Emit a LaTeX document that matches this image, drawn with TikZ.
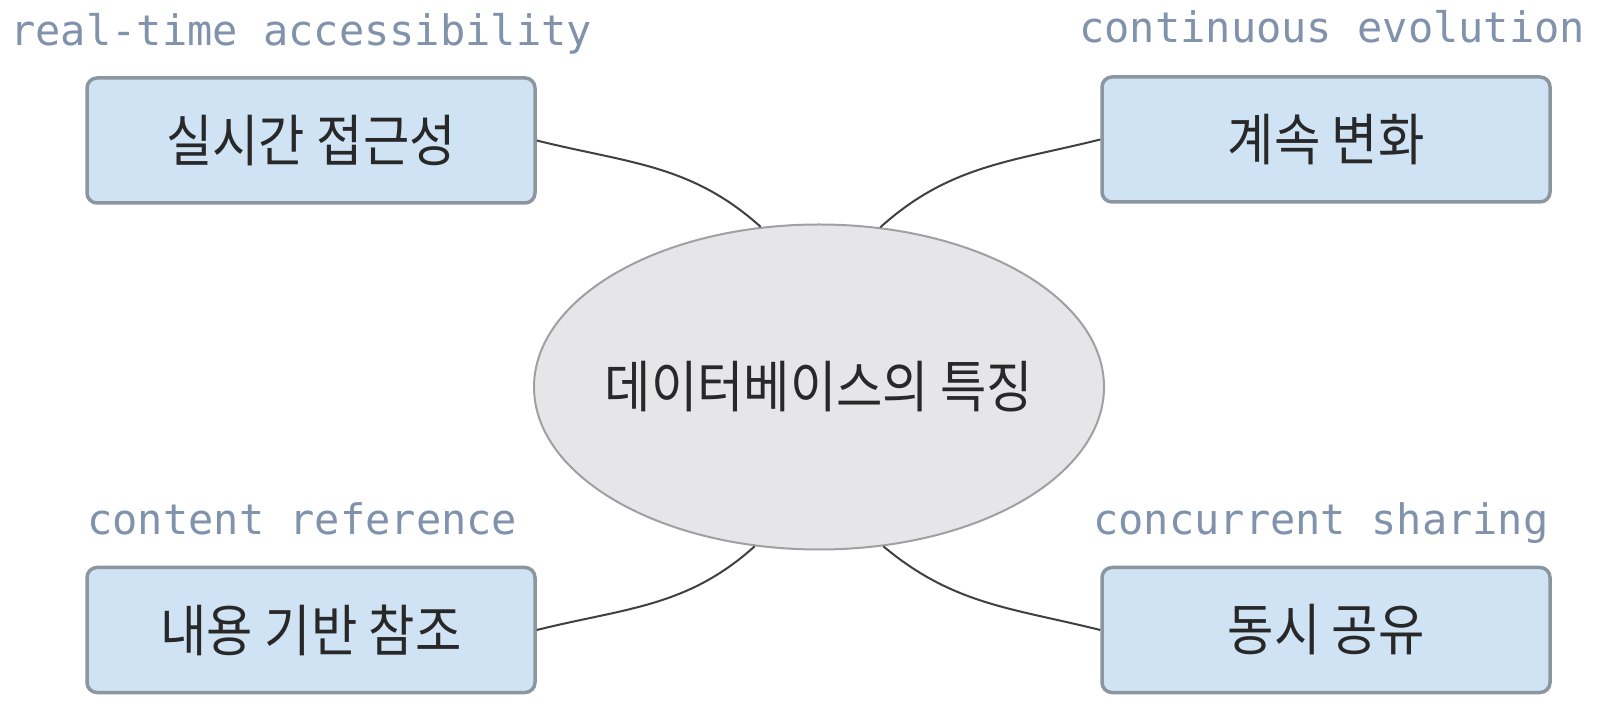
\documentclass[tikz,border=0pt]{standalone}
\usepackage{fontspec}
\newfontfamily\krfont[FakeStretch=0.9]{Noto Sans CJK KR}
\newfontfamily\monofont{DejaVu Sans Mono}
\usetikzlibrary{shapes.geometric}
\definecolor{boxfill}{RGB}{207,227,244}
\definecolor{boxline}{RGB}{140,150,158}
\definecolor{ellfill}{RGB}{230,230,232}
\definecolor{ellline}{RGB}{160,160,162}
\definecolor{labelcol}{RGB}{128,146,172}
\definecolor{linkcol}{RGB}{64,64,64}
\definecolor{txtcol}{RGB}{40,40,40}
\begin{document}
\begin{tikzpicture}[x=0.5pt,y=0.5pt,
  featbox/.style={draw=boxline, line width=1.75pt, fill=boxfill, rounded corners=5pt,
    minimum width=224pt, minimum height=62.5pt, inner sep=0pt,
    font=\krfont\fontsize{28}{32}\selectfont, text=txtcol},
  hub/.style={ellipse, draw=ellline, line width=1pt, fill=ellfill,
    minimum width=285pt, minimum height=162.5pt, inner xsep=-20pt, inner ysep=0pt,
    font=\krfont\fontsize{28}{32}\selectfont, text=txtcol},
  tag/.style={anchor=base west, inner sep=0pt,
    font=\monofont\fontsize{21}{24}\selectfont, text=labelcol},
  link/.style={draw=linkcol, line width=1pt}]
\fill[white] (0,0) rectangle (1604,-704);
\useasboundingbox (0,0) rectangle (1604,-704);

\node[featbox] (rt) at (311,-140.5) {실시간 접근성};
\node[featbox] (ce) at (1326,-139.5) {계속 변화};
\node[featbox] (cr) at (311,-630) {내용 기반 참조};
\node[featbox] (cs) at (1326,-630) {동시 공유};
\node[hub] (db) at (819,-387) {데이터베이스의 특징};

\node[tag] (l1) at (10,-46) {real-time accessibility};
\node[tag] (l2) at (1079,-43) {continuous evolution};
\node[tag] (l3) at (87,-535) {content reference};
\node[tag] (l4) at (1093,-535) {concurrent sharing};

\draw[link] (rt.east) to[out=-14,in=138] (db.110);
\draw[link] (ce.west) to[out=194,in=42] (db.69);
\draw[link] (cr.east) to[out=14,in=222] (db.248);
\draw[link] (cs.west) to[out=166,in=-40] (db.292);
\end{tikzpicture}
\end{document}
